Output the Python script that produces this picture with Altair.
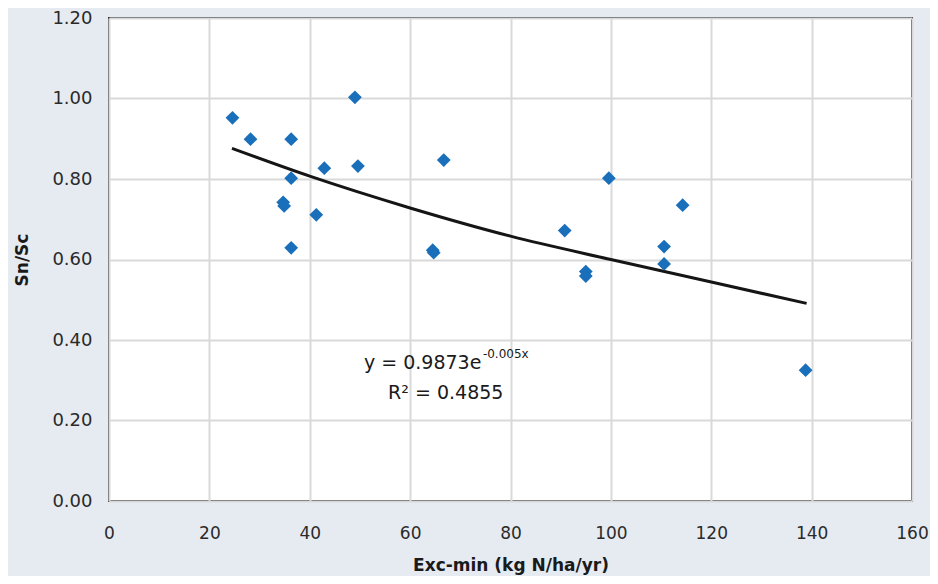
import altair as alt
import pandas as pd

# Scatter data
exc_min = [24.6, 28.2, 36.3, 49.0, 42.9, 49.6, 36.3, 34.7, 34.9, 41.3, 36.3,
           66.7, 64.5, 64.7, 90.8, 95.0, 95.0, 99.6, 110.6, 110.6, 114.3, 138.8]
sn_sc = [0.952, 0.899, 0.899, 1.003, 0.827, 0.832, 0.802, 0.742, 0.733, 0.711, 0.629,
         0.847, 0.623, 0.617, 0.672, 0.570, 0.559, 0.802, 0.632, 0.589, 0.735, 0.325]

# Trend line points
trend_x = [24.5, 40, 60, 80, 100, 120, 139]
trend_y = [0.876, 0.807, 0.728, 0.658, 0.600, 0.544, 0.491]

# Annotation text
eq_main = "y = 0.9873e"
eq_sup = "-0.005x"
r2_text = "R² = 0.4855"
eq_pos = (74.2, 0.342)
sup_pos = (74.5, 0.347)
r2_pos = (67.1, 0.268)

x_ticks = [0, 20, 40, 60, 80, 100, 120, 140, 160]
y_ticks = [0.0, 0.2, 0.4, 0.6, 0.8, 1.0, 1.2]

FONT = "DejaVu Sans"

pts = pd.DataFrame({"x": exc_min, "y": sn_sc})
trend = pd.DataFrame({"x": trend_x, "y": trend_y})

xscale = alt.Scale(domain=[0, 160], nice=False, zero=False)
yscale = alt.Scale(domain=[0, 1.2], nice=False, zero=False)

xaxis = alt.Axis(values=x_ticks, title="Exc-min (kg N/ha/yr)", ticks=False, domain=False,
                 labelFlush=False, labelOverlap=False,
                 labelPadding=24, titlePadding=16, labelFontSize=17, titleFontSize=17,
                 labelFont=FONT, titleFont=FONT, titleFontWeight="bold",
                 labelColor="#2a2a2a", titleColor="#1a1a1a",
                 gridColor="#d9d9d9", gridWidth=2)
yaxis = alt.Axis(values=y_ticks, format=".2f", title="Sn/Sc", ticks=False, domain=False,
                 labelFlush=False, labelOverlap=False,
                 labelPadding=17, titlePadding=20, labelFontSize=18, titleFontSize=17,
                 labelFont=FONT, titleFont=FONT, titleFontWeight="bold",
                 labelColor="#2a2a2a", titleColor="#1a1a1a",
                 gridColor="#d9d9d9", gridWidth=2)

points = alt.Chart(pts).mark_point(shape="diamond", filled=True, size=190,
                                   color="#1a6fba", opacity=1).encode(
    x=alt.X("x:Q", scale=xscale, axis=xaxis),
    y=alt.Y("y:Q", scale=yscale, axis=yaxis),
)

line = alt.Chart(trend).mark_line(color="#151515", strokeWidth=3,
                                  interpolate="monotone").encode(
    x=alt.X("x:Q", scale=xscale),
    y=alt.Y("y:Q", scale=yscale),
)

def label(txt, pos, size, align, baseline="middle"):
    df = pd.DataFrame({"x": [pos[0]], "y": [pos[1]], "t": [txt]})
    return alt.Chart(df).mark_text(font=FONT, fontSize=size, align=align,
                                   baseline=baseline, color="#1a1a1a").encode(
        x=alt.X("x:Q", scale=xscale), y=alt.Y("y:Q", scale=yscale), text="t:N")

t1 = label(eq_main, eq_pos, 19, "right")
t2 = label(eq_sup, sup_pos, 12, "left", "bottom")
t3 = label(r2_text, r2_pos, 19, "center")

chart = alt.layer(line, points, t1, t2, t3).properties(
    width=803, height=483,
    autosize=alt.AutoSizeParams(type="none"),
    padding={"left": 101, "top": 10, "right": 18, "bottom": 75},
    background="#e6ebf2",
).configure_view(fill="white", stroke="#2e2e2e", strokeWidth=2)

chart.save("out.html", embed_options={"renderer": "svg", "actions": False})
